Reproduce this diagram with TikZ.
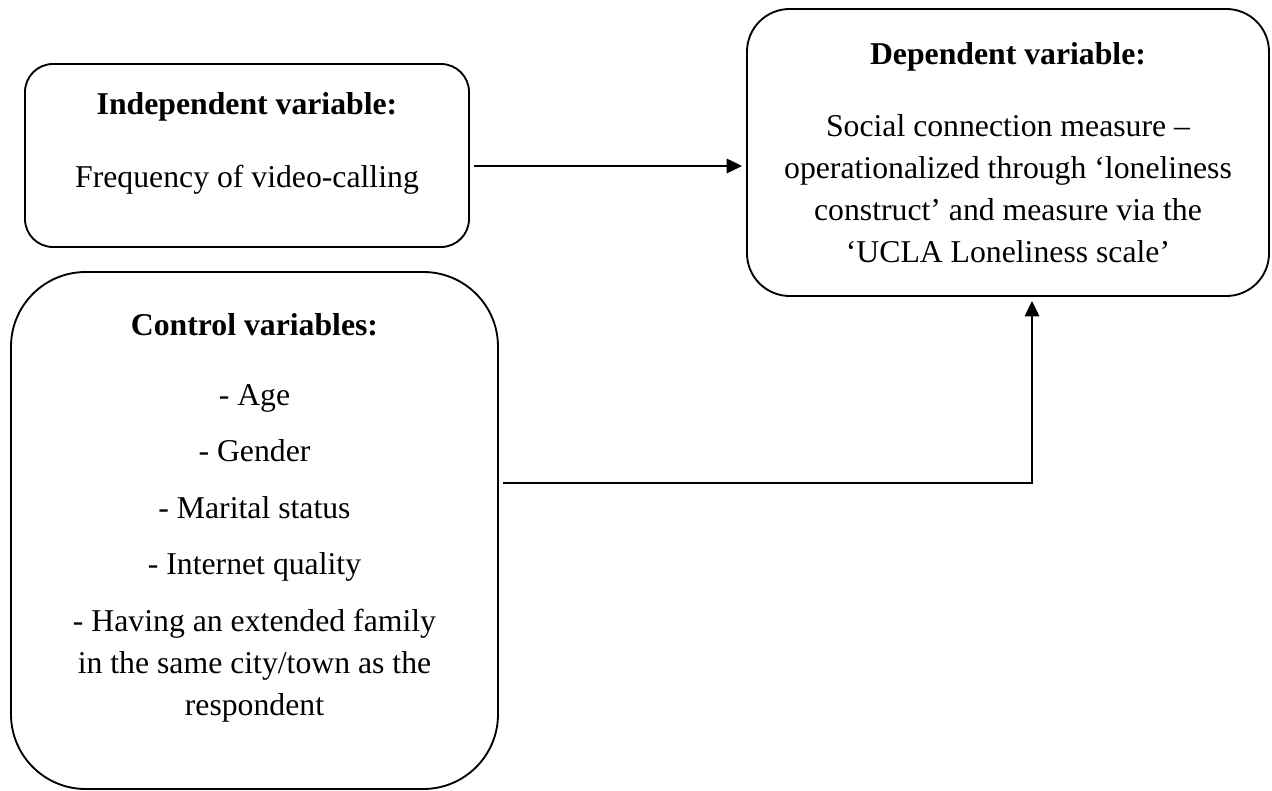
\documentclass[tikz,border=0pt]{standalone}
\usepackage{fontspec}
\setmainfont{Liberation Serif}
\usetikzlibrary{arrows.meta,calc}
\begin{document}
\begin{tikzpicture}[x=0.75pt,y=-0.75pt,
  varbox/.style={draw=black, line width=1.4pt, inner sep=0pt, outer sep=0pt},
  boxtext/.style={align=center, anchor=north, inner sep=0pt, outer sep=0pt,
    font=\fontsize{23.8}{31.5}\selectfont},
  conn/.style={line width=1pt, -{Triangle[length=11.5pt,width=11pt]}}]
\useasboundingbox (0,0) rectangle (1272,791);

% the three variable boxes
\node[varbox, minimum width=333pt, minimum height=137.25pt, rounded corners=21pt]
  (indep) at (247,155.5) {};
\node[varbox, minimum width=391.5pt, minimum height=215.25pt, rounded corners=32pt]
  (dep) at (1008,152.5) {};
\node[varbox, minimum width=365.25pt, minimum height=387.75pt, rounded corners=56pt]
  (ctrl) at (254.5,530.5) {};

% box contents
\node[boxtext] (indeptext) at ($(indep.north)+(0,21.6)$)
  {\strut\textbf{Independent variable:}\\[23.25pt]
   Frequency of video-calling};
\node[boxtext] (deptext) at ($(dep.north)+(0,26.6)$)
  {\strut\textbf{Dependent variable:}\\[22.5pt]
   Social connection measure --\\
   operationalized through `loneliness\\
   construct' and measure via the\\
   `UCLA Loneliness scale'};
\node[boxtext] (ctrltext) at ($(ctrl.north)+(0,33.6)$)
  {\strut\textbf{Control variables:}\\[21pt]
   - Age\\[10.9pt]
   - Gender\\[10.9pt]
   - Marital status\\[10.9pt]
   - Internet quality\\[10.9pt]
   - Having an extended family\\
   in the same city/town as the\\
   respondent};

% connectors
\draw[conn] ($(indep.east)+(5,10.5)$) -- ($(dep.west)+(-5,13.5)$);
\draw[conn] ($(ctrl.east)+(5,-47.5)$) -| ($(dep.south)+(24,5)$);
\end{tikzpicture}
\end{document}
